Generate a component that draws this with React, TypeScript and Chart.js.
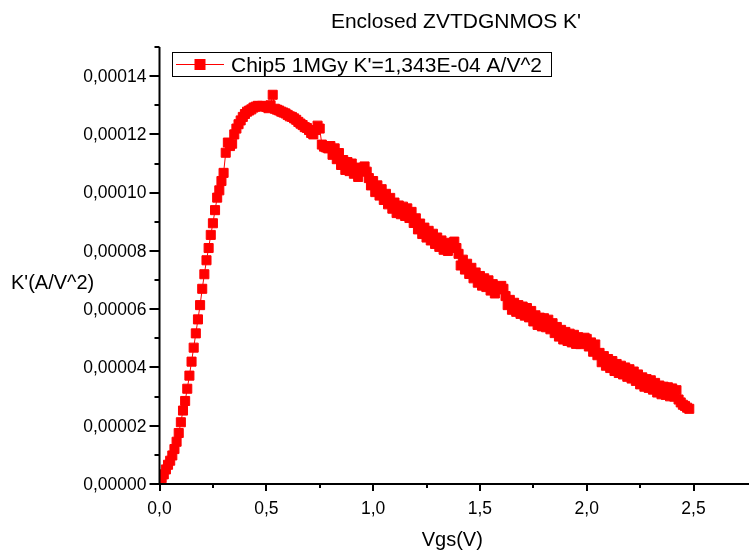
import { useEffect, useRef } from "react";
import { Chart, registerables } from "chart.js";

Chart.register(...registerables);

const TITLE = "Enclosed ZVTDGNMOS K'";
const X_TITLE = "Vgs(V)";
const Y_TITLE = "K'(A/V^2)";
const SERIES_LABEL = "Chip5 1MGy K'=1,343E-04 A/V^2";

const X_MAJOR = [0, 0.5, 1, 1.5, 2, 2.5];
const X_LABELS = ["0,0", "0,5", "1,0", "1,5", "2,0", "2,5"];
const X_MINOR = [0.25, 0.75, 1.25, 1.75, 2.25];
const Y_MAJOR = [0, 0.00002, 0.00004, 0.00006, 0.00008, 0.0001, 0.00012, 0.00014];
const Y_LABELS = ["0,00000", "0,00002", "0,00004", "0,00006", "0,00008", "0,00010", "0,00012", "0,00014"];
const Y_MINOR = [0.00001, 0.00003, 0.00005, 0.00007, 0.00009, 0.00011, 0.00013, 0.00015];

// Gate voltage sweep (V)
const VGS = [
  0.0, 0.01, 0.02, 0.03, 0.04, 0.05, 0.06, 0.07, 0.08, 0.09,
  0.1, 0.11, 0.12, 0.13, 0.14, 0.15, 0.16, 0.17, 0.18, 0.19,
  0.2, 0.21, 0.22, 0.23, 0.24, 0.25, 0.26, 0.27, 0.28, 0.29,
  0.3, 0.31, 0.32, 0.33, 0.34, 0.35, 0.36, 0.37, 0.38, 0.39,
  0.4, 0.41, 0.42, 0.43, 0.44, 0.45, 0.46, 0.47, 0.48, 0.49,
  0.5, 0.51, 0.52, 0.53, 0.54, 0.55, 0.56, 0.57, 0.58, 0.59,
  0.6, 0.61, 0.62, 0.63, 0.64, 0.65, 0.66, 0.67, 0.68, 0.69,
  0.7, 0.71, 0.72, 0.73, 0.74, 0.75, 0.76, 0.77, 0.78, 0.79,
  0.8, 0.81, 0.82, 0.83, 0.84, 0.85, 0.86, 0.87, 0.88, 0.89,
  0.9, 0.91, 0.92, 0.93, 0.94, 0.95, 0.96, 0.97, 0.98, 0.99,
  1.0, 1.01, 1.02, 1.03, 1.04, 1.05, 1.06, 1.07, 1.08, 1.09,
  1.1, 1.11, 1.12, 1.13, 1.14, 1.15, 1.16, 1.17, 1.18, 1.19,
  1.2, 1.21, 1.22, 1.23, 1.24, 1.25, 1.26, 1.27, 1.28, 1.29,
  1.3, 1.31, 1.32, 1.33, 1.34, 1.35, 1.36, 1.37, 1.38, 1.39,
  1.4, 1.41, 1.42, 1.43, 1.44, 1.45, 1.46, 1.47, 1.48, 1.49,
  1.5, 1.51, 1.52, 1.53, 1.54, 1.55, 1.56, 1.57, 1.58, 1.59,
  1.6, 1.61, 1.62, 1.63, 1.64, 1.65, 1.66, 1.67, 1.68, 1.69,
  1.7, 1.71, 1.72, 1.73, 1.74, 1.75, 1.76, 1.77, 1.78, 1.79,
  1.8, 1.81, 1.82, 1.83, 1.84, 1.85, 1.86, 1.87, 1.88, 1.89,
  1.9, 1.91, 1.92, 1.93, 1.94, 1.95, 1.96, 1.97, 1.98, 1.99,
  2.0, 2.01, 2.02, 2.03, 2.04, 2.05, 2.06, 2.07, 2.08, 2.09,
  2.1, 2.11, 2.12, 2.13, 2.14, 2.15, 2.16, 2.17, 2.18, 2.19,
  2.2, 2.21, 2.22, 2.23, 2.24, 2.25, 2.26, 2.27, 2.28, 2.29,
  2.3, 2.31, 2.32, 2.33, 2.34, 2.35, 2.36, 2.37, 2.38, 2.39,
  2.4, 2.41, 2.42, 2.43, 2.44, 2.45, 2.46, 2.47, 2.48,
];

// K' in units of 1e-5 A/V^2
const KPRIME_E5 = [
  0.15, 0.2, 0.33, 0.5, 0.66, 0.8, 0.98, 1.2, 1.45, 1.75,
  2.12, 2.52, 2.85, 3.27, 3.72, 4.2, 4.68, 5.17, 5.65, 6.14,
  6.7, 7.2, 7.68, 8.1, 8.55, 8.95, 9.4, 9.83, 10.08, 10.4,
  10.68, 11.37, 11.72, 11.6, 11.68, 12.0, 12.2, 12.35, 12.48, 12.6,
  12.7, 12.78, 12.82, 12.86, 12.92, 12.95, 12.98, 12.97, 12.98, 12.96,
  12.94, 12.9, 13.0, 13.36, 12.88, 12.85, 12.82, 12.78, 12.75, 12.72,
  12.67, 12.62, 12.6, 12.55, 12.5, 12.43, 12.37, 12.32, 12.25, 12.22,
  12.15, 12.05, 12.0, 12.15, 12.3, 12.2, 11.65, 11.58, 11.55, 11.52,
  11.6, 11.3, 11.52, 11.15, 11.36, 10.95, 11.12, 10.78, 11.05, 10.74,
  11.0, 10.65, 10.86, 10.54, 10.75, 10.75, 10.9, 10.72, 10.5, 10.25,
  10.4, 10.02, 10.25, 9.9, 10.12, 9.75, 9.96, 9.6, 9.82, 9.45,
  9.66, 9.3, 9.56, 9.26, 9.52, 9.2, 9.46, 9.13, 9.34, 8.96,
  9.12, 8.74, 8.94, 8.58, 8.8, 8.46, 8.69, 8.36, 8.59, 8.24,
  8.46, 8.14, 8.36, 8.04, 8.28, 8.0, 8.2, 8.25, 8.32, 8.1,
  7.9, 7.5, 7.7, 7.36, 7.56, 7.21, 7.42, 7.06, 7.26, 6.91,
  7.14, 6.81, 7.06, 6.76, 6.99, 6.64, 6.86, 6.54, 6.72, 6.68,
  6.8, 6.7, 6.45, 6.14, 6.32, 5.98, 6.22, 5.91, 6.14, 5.84,
  6.09, 5.78, 6.04, 5.72, 5.94, 5.58, 5.79, 5.46, 5.71, 5.41,
  5.69, 5.38, 5.64, 5.31, 5.52, 5.18, 5.39, 5.06, 5.29, 4.96,
  5.22, 4.91, 5.16, 4.86, 5.12, 4.81, 5.04, 4.8, 4.95, 5.02,
  4.98, 4.72, 4.86, 4.54, 4.79, 4.42, 4.5, 4.18, 4.39, 4.06,
  4.29, 3.98, 4.22, 3.88, 4.12, 3.81, 4.06, 3.76, 4.0, 3.68,
  3.94, 3.62, 3.86, 3.54, 3.76, 3.42, 3.66, 3.34, 3.6, 3.3,
  3.56, 3.24, 3.47, 3.14, 3.38, 3.08, 3.34, 3.06, 3.32, 3.01,
  3.28, 3.0, 3.22, 2.9, 2.8, 2.72, 2.68, 2.62, 2.58,
];

const FONT = '"Liberation Sans", Arial, Helvetica, sans-serif';
const RED = "#ff0000";

const decorPlugin = {
  id: "originDecor",
  afterDatasetsDraw(chart: any) {
    const ctx: CanvasRenderingContext2D = chart.ctx;
    const xs = chart.scales.x;
    const ys = chart.scales.y;
    const area = chart.chartArea;
    ctx.save();
    ctx.strokeStyle = "#000";
    ctx.fillStyle = "#000";

    // axis lines
    ctx.lineWidth = 2;
    ctx.beginPath();
    ctx.moveTo(area.left, ys.getPixelForValue(0.00015));
    ctx.lineTo(area.left, area.bottom + 1);
    ctx.moveTo(area.left - 1, area.bottom);
    ctx.lineTo(chart.width, area.bottom);
    ctx.stroke();

    // ticks
    ctx.lineWidth = 2;
    ctx.beginPath();
    Y_MAJOR.forEach((v) => {
      const y = Math.round(ys.getPixelForValue(v));
      ctx.moveTo(area.left - 10, y);
      ctx.lineTo(area.left, y);
    });
    Y_MINOR.forEach((v) => {
      const y = Math.round(ys.getPixelForValue(v));
      ctx.moveTo(area.left - 5, y);
      ctx.lineTo(area.left, y);
    });
    X_MAJOR.forEach((v) => {
      const x = Math.round(xs.getPixelForValue(v));
      ctx.moveTo(x, area.bottom);
      ctx.lineTo(x, area.bottom + 7);
    });
    X_MINOR.forEach((v) => {
      const x = Math.round(xs.getPixelForValue(v));
      ctx.moveTo(x, area.bottom);
      ctx.lineTo(x, area.bottom + 4);
    });
    ctx.stroke();

    // tick labels
    ctx.font = `17.5px ${FONT}`;
    ctx.textAlign = "right";
    ctx.textBaseline = "middle";
    Y_MAJOR.forEach((v, i) => {
      ctx.fillText(Y_LABELS[i], area.left - 13, ys.getPixelForValue(v) + 1);
    });
    ctx.textAlign = "center";
    ctx.textBaseline = "alphabetic";
    X_MAJOR.forEach((v, i) => {
      ctx.fillText(X_LABELS[i], xs.getPixelForValue(v), area.bottom + 30);
    });

    // axis titles
    ctx.font = `20px ${FONT}`;
    ctx.textAlign = "center";
    ctx.fillText(X_TITLE, (area.left + chart.width) / 2 - 2, 546);
    ctx.textAlign = "left";
    ctx.fillText(Y_TITLE, 11, 289);

    // title
    ctx.font = `21px ${FONT}`;
    ctx.textAlign = "center";
    ctx.fillText(TITLE, 456, 28);

    // legend
    ctx.lineWidth = 1;
    ctx.strokeRect(172.5, 52.5, 379, 24);
    ctx.strokeStyle = RED;
    ctx.beginPath();
    ctx.moveTo(176, 64.5);
    ctx.lineTo(224, 64.5);
    ctx.stroke();
    ctx.fillStyle = RED;
    ctx.fillRect(194.5, 59, 11, 11);
    ctx.fillStyle = "#000";
    ctx.font = `21px ${FONT}`;
    ctx.textAlign = "left";
    ctx.fillText(SERIES_LABEL, 231, 72);
    ctx.restore();
  },
};

export default function App() {
  const ref = useRef<HTMLCanvasElement>(null);
  useEffect(() => {
    if (!ref.current) return;
    const data = VGS.map((x, i) => ({ x, y: KPRIME_E5[i] * 1e-5 }));
    const chart = new Chart(ref.current, {
      type: "scatter",
      data: {
        datasets: [
          {
            label: SERIES_LABEL,
            data,
            showLine: true,
            borderColor: RED,
            borderWidth: 1,
            backgroundColor: RED,
            pointStyle: "rect",
            pointRadius: 6.4,
            pointBorderWidth: 1,
            pointBorderColor: RED,
            pointBackgroundColor: RED,
          },
        ],
      },
      options: {
        animation: false,
        responsive: false,
        devicePixelRatio: 1,
        layout: { padding: { left: 159.5, right: 0, top: 47, bottom: 72 } },
        plugins: {
          legend: { display: false },
          title: { display: false },
          tooltip: { enabled: false },
        },
        scales: {
          x: { type: "linear", min: 0, max: 2.725, display: false },
          y: { type: "linear", min: 0, max: 0.00015, display: false },
        },
      },
      plugins: [decorPlugin],
    });
    return () => chart.destroy();
  }, []);
  return (
    <div style={{ position: "fixed", left: 0, top: 0, width: 749, height: 556, background: "#fff" }}>
      <canvas ref={ref} width={749} height={556} style={{ width: 749, height: 556, display: "block" }} />
    </div>
  );
}
